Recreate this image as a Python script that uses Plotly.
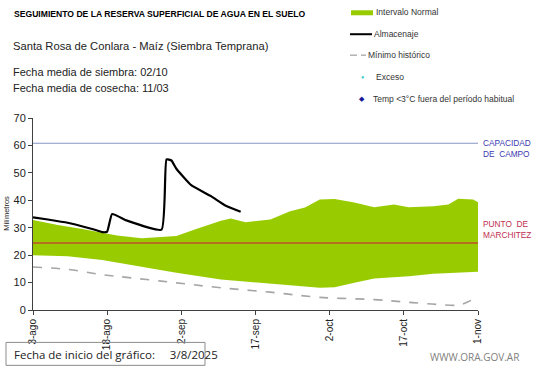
import plotly.graph_objects as go

# ---------------- data ----------------
upper_dates = ["2025-08-03", "2025-08-08", "2025-08-13", "2025-08-17", "2025-08-20", "2025-08-25",
               "2025-08-29", "2025-09-01", "2025-09-05", "2025-09-10", "2025-09-12", "2025-09-15",
               "2025-09-20", "2025-09-24", "2025-09-27", "2025-09-30", "2025-10-03", "2025-10-07",
               "2025-10-11", "2025-10-15", "2025-10-18", "2025-10-23", "2025-10-26", "2025-10-28",
               "2025-10-31", "2025-11-01"]
upper_vals = [32.8, 31.0, 29.5, 28.2, 27.2, 26.2, 26.5, 27.0, 29.5, 32.5, 33.4, 32.0, 33.0, 36.0,
              37.4, 40.3, 40.5, 39.2, 37.5, 38.5, 37.5, 37.8, 38.5, 40.6, 40.3, 39.3]

lower_dates = ["2025-08-03", "2025-08-10", "2025-08-17", "2025-08-22", "2025-09-01", "2025-09-10",
               "2025-09-20", "2025-09-30", "2025-10-03", "2025-10-07", "2025-10-11", "2025-10-15",
               "2025-10-18", "2025-10-23", "2025-10-26", "2025-11-01"]
lower_vals = [20.0, 19.6, 18.2, 16.5, 13.6, 11.1, 9.5, 8.1, 8.3, 9.9, 11.5, 12.0, 12.3, 13.2, 13.6, 13.9]

min_dates = ["2025-08-03", "2025-08-10", "2025-08-17", "2025-08-23", "2025-09-01", "2025-09-10",
             "2025-09-20", "2025-09-30", "2025-10-11", "2025-10-18", "2025-10-24", "2025-10-28",
             "2025-10-30", "2025-11-01"]
min_vals = [15.7, 14.8, 12.9, 11.7, 9.9, 8.1, 6.5, 4.6, 3.8, 2.8, 2.0, 1.8, 3.0, 4.9]

alm_dates = ["2025-08-03", "2025-08-06", "2025-08-10", "2025-08-14", "2025-08-16", "2025-08-17",
             "2025-08-18", "2025-08-19", "2025-08-22", "2025-08-29", "2025-08-30", "2025-08-31",
             "2025-09-01", "2025-09-04", "2025-09-08", "2025-09-11", "2025-09-14"]
alm_vals = [33.8, 33.0, 31.8, 30.0, 29.0, 28.4, 28.6, 35.0, 32.6, 29.3, 54.9, 54.5, 51.5, 45.5,
            41.5, 38.0, 35.8]

capacidad_campo = 60.8
punto_marchitez = 24.4

tick_dates = ["2025-08-03", "2025-08-18", "2025-09-02", "2025-09-17", "2025-10-02", "2025-10-17",
              "2025-11-01"]
tick_labels = ["3-ago", "18-ago", "2-sep", "17-sep", "2-oct", "17-oct", "1-nov"]

# ---------------- figure ----------------
W, H = 541, 368
L, R, T, B = 33, 478, 118, 310.5

fig = go.Figure()

band_x = upper_dates + lower_dates[::-1]
band_y = upper_vals + lower_vals[::-1]
fig.add_trace(go.Scatter(x=band_x, y=band_y, fill="toself", fillcolor="#99cc00",
                         line=dict(width=0, color="#99cc00"), mode="lines",
                         hoverinfo="skip", showlegend=False))
fig.add_trace(go.Scatter(x=min_dates, y=min_vals, mode="lines",
                         line=dict(color="#a6a6a6", width=1.6, dash="dash", shape="spline"),
                         showlegend=False))
fig.add_trace(go.Scatter(x=alm_dates, y=alm_vals, mode="lines",
                         line=dict(color="black", width=2.2, shape="spline", smoothing=0.4),
                         showlegend=False))

# paper coords are relative to the plot area
def px(x):
    return (x - L) / (R - L)

def py(y):
    return (B - y) / (B - T)

shapes = [
    dict(type="line", xref="x domain", yref="y", x0=0, x1=1, y0=capacidad_campo, y1=capacidad_campo,
         line=dict(color="#8496c4", width=1.2)),
    dict(type="line", xref="x domain", yref="y", x0=0, x1=1, y0=punto_marchitez, y1=punto_marchitez,
         line=dict(color="#c0502a", width=1.6)),
    # legend marks
    dict(type="rect", xref="paper", yref="paper", x0=px(351), x1=px(373), y0=py(15), y1=py(10),
         fillcolor="#99cc00", line=dict(width=0)),
    dict(type="line", xref="paper", yref="paper", x0=px(350), x1=px(372), y0=py(34), y1=py(34),
         line=dict(color="black", width=2)),
    dict(type="line", xref="paper", yref="paper", x0=px(350), x1=px(357), y0=py(55), y1=py(55),
         line=dict(color="#a6a6a6", width=1.3)),
    dict(type="line", xref="paper", yref="paper", x0=px(361), x1=px(366), y0=py(55), y1=py(55),
         line=dict(color="#a6a6a6", width=1.3)),
    # bottom box
    dict(type="rect", xref="paper", yref="paper", x0=px(6), x1=px(205), y0=py(366), y1=py(343),
         line=dict(color="#8c8c8c", width=1), fillcolor="rgba(0,0,0,0)"),
]

ann_font = "Arial, Liberation Sans, sans-serif"
annotations = [
    dict(x=px(12), y=py(14), text="<b>SEGUIMIENTO DE LA RESERVA SUPERFICIAL DE AGUA EN EL SUELO</b>",
         font=dict(size=8.6, color="black", family=ann_font)),
    dict(x=px(11), y=py(46), text="Santa Rosa de Conlara - Maíz (Siembra Temprana)",
         font=dict(size=11.2, color="#222", family=ann_font)),
    dict(x=px(11), y=py(72), text="Fecha media de siembra: 02/10",
         font=dict(size=11, color="#222", family=ann_font)),
    dict(x=px(11), y=py(88), text="Fecha media de cosecha: 11/03",
         font=dict(size=11, color="#222", family=ann_font)),
    dict(x=px(374), y=py(12), text="Intervalo Normal", font=dict(size=8.5, color="#333", family=ann_font)),
    dict(x=px(372), y=py(34), text="Almacenaje", font=dict(size=8.5, color="#333", family=ann_font)),
    dict(x=px(366), y=py(55), text="Mínimo histórico", font=dict(size=8.5, color="#333", family=ann_font)),
    dict(x=px(374), y=py(77), text="Exceso", font=dict(size=8.5, color="#333", family=ann_font)),
    dict(x=px(371), y=py(99), text="Temp <3°C fuera del período habitual",
         font=dict(size=8.5, color="#333", family=ann_font)),
    dict(x=px(362), y=py(77), text="●", xanchor="center", font=dict(size=5.5, color="#33cccc")),
    dict(x=px(362), y=py(98.5), text="◆", xanchor="center", font=dict(size=7, color="#1a1a99")),
    dict(x=px(481), y=py(148.5), text="CAPACIDAD<br>DE  CAMPO",
         font=dict(size=8.3, color="#3b3bb0", family=ann_font), align="left"),
    dict(x=px(481), y=py(230), text="PUNTO  DE<br>MARCHITEZ",
         font=dict(size=8.3, color="#c03050", family=ann_font), align="left"),
    dict(x=px(12), y=py(355), text="Fecha de inicio del gráfico:     3/8/2025",
         font=dict(size=11.5, color="#222", family="Open Sans, sans-serif")),
    dict(x=px(428), y=py(358), text="WWW.ORA.GOV.AR",
         font=dict(size=10, color="#7f7f7f", family="Open Sans, sans-serif")),
    dict(x=px(7), y=py(214), text="Milímetros", textangle=-90,
         xanchor="center", font=dict(size=7.5, color="#222", family=ann_font)),
]
for a in annotations:
    a.setdefault("xref", "paper")
    a.setdefault("yref", "paper")
    a.setdefault("xanchor", "left")
    a.setdefault("yanchor", "middle")
    a.setdefault("showarrow", False)

fig.update_layout(
    width=W, height=H,
    margin=dict(l=L, r=W - R, t=T, b=H - B, pad=0, autoexpand=False),
    paper_bgcolor="white", plot_bgcolor="white",
    shapes=shapes, annotations=annotations,
    showlegend=False,
    font=dict(family=ann_font, color="#222"),
)
fig.update_xaxes(
    type="date", range=["2025-08-03", "2025-11-01"], automargin=False,
    tickvals=tick_dates, ticktext=tick_labels, tickangle=-90,
    ticks="outside", ticklen=4, tickcolor="#404040",
    showline=True, linecolor="#404040", linewidth=1,
    showgrid=False, zeroline=False, tickfont=dict(size=10, color="#222"),
)
fig.update_yaxes(
    range=[0, 70], tickvals=[0, 10, 20, 30, 40, 50, 60, 70], automargin=False,
    ticks="outside", ticklen=4, tickcolor="#404040",
    showline=True, linecolor="#404040", linewidth=1,
    showgrid=False, zeroline=False, tickfont=dict(size=11, color="#222"),
)

fig.write_html("out.html", config={"displayModeBar": False},
               post_script="document.body.style.margin='0px';")
